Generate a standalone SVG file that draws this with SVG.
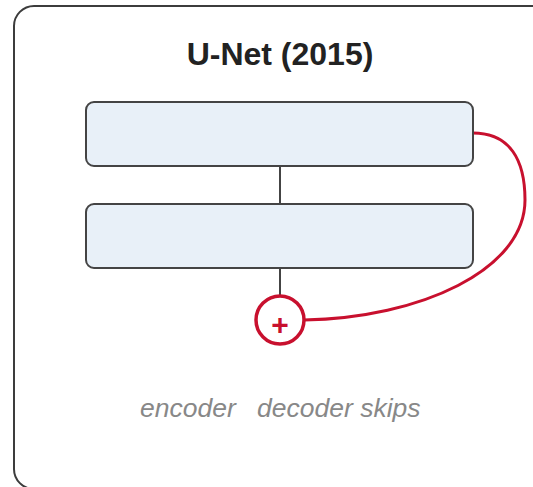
<svg xmlns="http://www.w3.org/2000/svg" width="533" height="487" viewBox="0 0 533 487">
  <style>
    .frame { fill: #ffffff; stroke: #3c3c3c; stroke-width: 2; }
    .block { fill: #e8f0f8; stroke: #444444; stroke-width: 2; }
    .link { fill: none; stroke: #444444; stroke-width: 2; }
    .skip { fill: none; stroke: #c8102e; stroke-width: 3; }
    .title { font-family: "Liberation Sans", Arial, sans-serif; font-weight: bold; font-size: 32px; fill: #222222; }
    .caption { font-family: "Liberation Sans", Arial, sans-serif; font-style: italic; font-size: 26.5px; fill: #888888; }
    .plus { font-family: "Liberation Sans", Arial, sans-serif; font-weight: bold; font-size: 30px; fill: #c8102e; }
  </style>

  <!-- outer panel -->
  <rect class="frame" x="14" y="6" width="540" height="483" rx="20"/>
  <text class="title" x="280" y="65" text-anchor="middle">U-Net (2015)</text>

  <!-- connectors -->
  <g id="connectors">
    <line class="link" x1="280" y1="166" x2="280" y2="296"/>
    <path class="skip" d="M473,133 C510,133 525,160 525,200 C525,270 420,318 304,320"/>
  </g>

  <!-- encoder block -->
  <g id="encoder">
    <rect class="block" x="86" y="102" width="387" height="64" rx="8"/>
  </g>

  <!-- decoder block -->
  <g id="decoder">
    <rect class="block" x="86" y="204" width="387" height="64" rx="8"/>
  </g>

  <!-- skip merge -->
  <g id="merge">
    <circle cx="280" cy="320" r="24" fill="#ffffff" stroke="#c8102e" stroke-width="3.5"/>
    <text class="plus" x="280" y="335" text-anchor="middle">+</text>
  </g>

  <!-- captions -->
  <g id="captions">
    <text class="caption" x="140" y="417">encoder</text>
    <text class="caption" x="257" y="417">decoder skips</text>
  </g>
</svg>
